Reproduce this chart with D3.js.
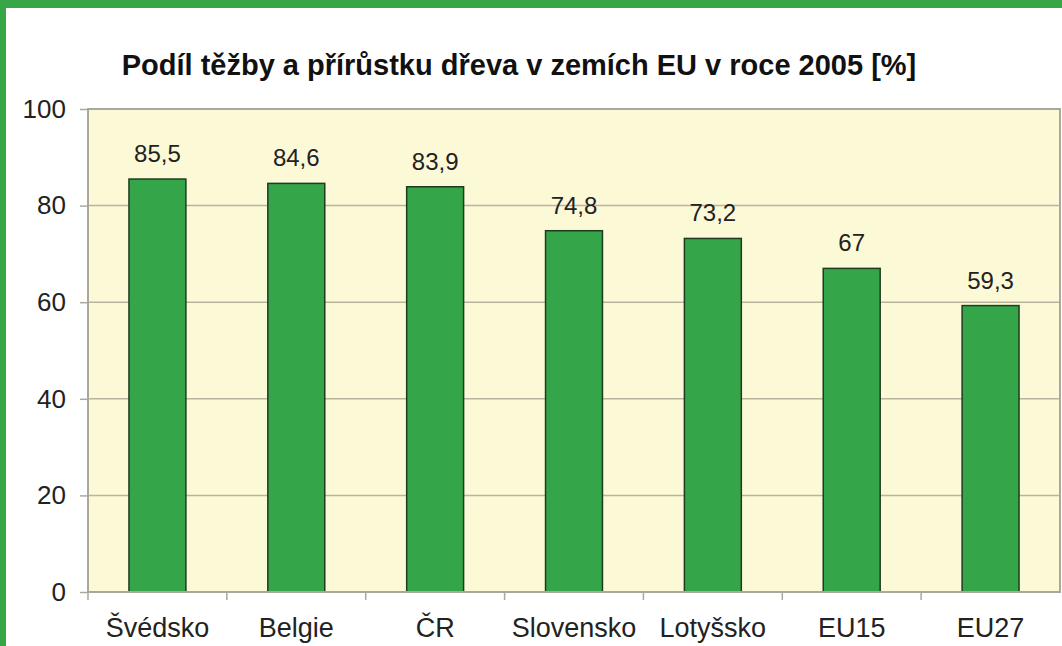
<!DOCTYPE html>
<html>
<head>
<meta charset="utf-8">
<script src="https://cdn.jsdelivr.net/npm/d3@7"></script>
<style>
  body { margin: 0; background: #fff; }
  svg { display: block; }
</style>
</head>
<body>
<svg id="chart"></svg>
<script>
// data
const countries = ['Švédsko', 'Belgie', 'ČR', 'Slovensko', 'Lotyšsko', 'EU15', 'EU27'];
const shares = [85.5, 84.6, 83.9, 74.8, 73.2, 67, 59.3];
const valueLabels = ['85,5', '84,6', '83,9', '74,8', '73,2', '67', '59,3'];
const yTicks = [0, 20, 40, 60, 80, 100];
const chartTitle = 'Podíl těžby a přírůstku dřeva v zemích EU v roce 2005 [%]';

const W = 1062, H = 646;
const margin = { top: 109, right: 2, bottom: 54, left: 88 };
const w = W - margin.left - margin.right;
const h = H - margin.top - margin.bottom;
const font = 'Liberation Sans, Arial, sans-serif';

const svg = d3.select('#chart').attr('width', W).attr('height', H);

// green frame on top and left
svg.append('rect').attr('x', 0).attr('y', 0).attr('width', W).attr('height', 8).attr('fill', '#37a647');
svg.append('rect').attr('x', 0).attr('y', 0).attr('width', 6).attr('height', H).attr('fill', '#37a647');

svg.append('text')
    .attr('x', 519).attr('y', 75)
    .attr('text-anchor', 'middle')
    .attr('font-family', font)
    .attr('font-weight', 'bold')
    .attr('font-size', 29)
    .attr('fill', '#111')
    .text(chartTitle);

const g = svg.append('g').attr('transform', `translate(${margin.left},${margin.top})`);

const x = d3.scaleBand().domain(countries).range([0, w]).paddingInner(0.59).paddingOuter(0.295);
const xCat = d3.scaleBand().domain(countries).range([0, w]);
const y = d3.scaleLinear().domain([0, 100]).range([h, 0]);

// plot background
g.append('rect').attr('width', w).attr('height', h).attr('fill', '#fcf9d7');

// gridlines
g.selectAll('.grid')
    .data(yTicks.filter(d => d > 0))
    .enter().append('line')
    .attr('x1', 0).attr('x2', w)
    .attr('y1', d => y(d)).attr('y2', d => y(d))
    .attr('stroke', '#b9b49c').attr('stroke-width', 1.5);

// plot frame
g.append('rect').attr('width', w).attr('height', h)
    .attr('fill', 'none').attr('stroke', '#a9a89f').attr('stroke-width', 2);

// bars
g.selectAll('.bar')
    .data(shares)
    .enter().append('rect')
    .attr('class', 'bar')
    .attr('x', (d, i) => x(countries[i]))
    .attr('y', d => y(d))
    .attr('width', x.bandwidth())
    .attr('height', d => y(0) - y(d))
    .attr('fill', '#34a548')
    .attr('stroke', '#1f3b22').attr('stroke-width', 1.5);

// value labels
g.selectAll('.val')
    .data(shares)
    .enter().append('text')
    .attr('x', (d, i) => x(countries[i]) + x.bandwidth() / 2)
    .attr('y', d => y(d) - 17)
    .attr('text-anchor', 'middle')
    .attr('font-family', font)
    .attr('font-size', 24)
    .attr('fill', '#222')
    .text((d, i) => valueLabels[i]);

// y axis
const yAxis = g.append('g')
    .call(d3.axisLeft(y).tickValues(yTicks).tickSize(8).tickPadding(14));
yAxis.select('.domain').remove();
yAxis.selectAll('line').attr('stroke', '#a9a89f').attr('stroke-width', 1.5);
yAxis.selectAll('text')
    .attr('font-family', font)
    .attr('font-size', 26).attr('fill', '#222');

// x axis: ticks on category boundaries
const xAxis = g.append('g').attr('transform', `translate(0,${h})`);
xAxis.append('line').attr('x1', 0).attr('x2', w)
    .attr('stroke', '#a9a89f').attr('stroke-width', 2);
xAxis.selectAll('.xt')
    .data(countries)
    .enter().append('line')
    .attr('x1', d => xCat(d)).attr('x2', d => xCat(d))
    .attr('y1', 0).attr('y2', 8)
    .attr('stroke', '#a9a89f').attr('stroke-width', 1.5);
xAxis.selectAll('.xl')
    .data(countries)
    .enter().append('text')
    .attr('x', d => xCat(d) + xCat.bandwidth() / 2)
    .attr('y', 45)
    .attr('text-anchor', 'middle')
    .attr('font-family', font)
    .attr('font-size', 27)
    .attr('fill', '#222')
    .text(d => d);
</script>
</body>
</html>
